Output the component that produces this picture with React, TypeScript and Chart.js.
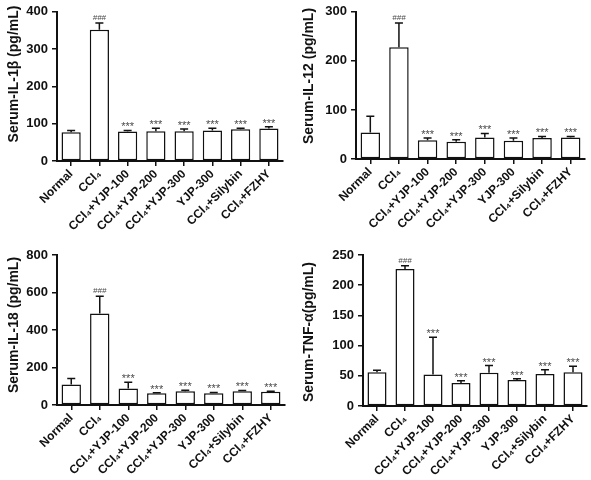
import React, { useEffect, useRef } from 'react';
import { Chart, registerables } from 'chart.js';

Chart.register(...registerables);

const FONT = '"Liberation Sans", Arial, Helvetica, sans-serif';

const categories = [
  'Normal',
  'CCl₄',
  'CCl₄+YJP-100',
  'CCl₄+YJP-200',
  'CCl₄+YJP-300',
  'YJP-300',
  'CCl₄+Silybin',
  'CCl₄+FZHY',
];

const markers = ['', '###', '***', '***', '***', '***', '***', '***'];

const il1bMean = [77, 352, 79, 80, 80, 82, 85, 87];
const il1bErr = [5, 18, 3, 8, 6, 6, 3, 5];

const il12Mean = [54, 228, 38, 35, 44, 37, 43, 44];
const il12Err = [33, 49, 5, 4, 8, 6, 3, 2];

const il18Mean = [110, 488, 88, 63, 74, 63, 74, 71];
const il18Err = [32, 92, 34, 3, 5, 4, 4, 2];

const tnfMean = [56, 227, 52, 38, 55, 43, 53, 56];
const tnfErr = [3, 5, 62, 4, 12, 2, 7, 10];

const il1bTicks = [0, 100, 200, 300, 400];
const il12Ticks = [0, 100, 200, 300];
const il18Ticks = [0, 200, 400, 600, 800];
const tnfTicks = [0, 50, 100, 150, 200, 250];

type Panel = {
  title: string;
  mean: number[];
  err: number[];
  ticks: number[];
  x: number;
  y: number;
  w: number;
  h: number;
  titleX: number;
  titleY: number;
  area: { left: number; right: number; top: number; bottom: number };
};

const panels: Panel[] = [
  {
    title: 'Serum-IL-1β (pg/mL)',
    mean: il1bMean,
    err: il1bErr,
    ticks: il1bTicks,
    x: 0, y: 0, w: 295, h: 240,
    titleX: 14, titleY: 74,
    area: { left: 57, right: 283, top: 9, bottom: 161 },
  },
  {
    title: 'Serum-IL-12 (pg/mL)',
    mean: il12Mean,
    err: il12Err,
    ticks: il12Ticks,
    x: 295, y: 0, w: 296, h: 240,
    titleX: 14, titleY: 76,
    area: { left: 61, right: 290, top: 8, bottom: 159 },
  },
  {
    title: 'Serum-IL-18 (pg/mL)',
    mean: il18Mean,
    err: il18Err,
    ticks: il18Ticks,
    x: 0, y: 240, w: 295, h: 240,
    titleX: 14, titleY: 85,
    area: { left: 57, right: 285, top: 15, bottom: 165 },
  },
  {
    title: 'Serum-TNF-α(pg/mL)',
    mean: tnfMean,
    err: tnfErr,
    ticks: tnfTicks,
    x: 295, y: 240, w: 296, h: 240,
    titleX: 14, titleY: 92,
    area: { left: 68, right: 292, top: 15, bottom: 166 },
  },
];

const INK = '#111111';

function BarPanel({ p }: { p: Panel }) {
  const ref = useRef<HTMLCanvasElement | null>(null);

  useEffect(() => {
    if (!ref.current) return;
    const errPlugin = {
      id: 'errorBars',
      afterDatasetsDraw(chart: any) {
        const ctx = chart.ctx;
        const meta = chart.getDatasetMeta(0);
        const ys = chart.scales.y;
        ctx.save();
        ctx.strokeStyle = INK;
        ctx.lineWidth = 1.5;
        p.mean.forEach((m, i) => {
          const el = meta.data[i];
          const x = el.x;
          const y0 = ys.getPixelForValue(m);
          const y1 = ys.getPixelForValue(m + p.err[i]);
          ctx.beginPath();
          ctx.moveTo(x, y0);
          ctx.lineTo(x, y1);
          ctx.moveTo(x - 4, y1);
          ctx.lineTo(x + 4, y1);
          ctx.stroke();
          const mk = markers[i];
          if (mk) {
            ctx.fillStyle = '#4a4a4a';
            ctx.textAlign = 'center';
            ctx.textBaseline = 'alphabetic';
            if (mk === '###') {
              ctx.font = `italic 8px ${FONT}`;
              ctx.fillText(mk, x, y1 - 3);
            } else {
              ctx.font = `11px ${FONT}`;
              ctx.fillText(mk, x, y1 - 0);
            }
          }
        });
        ctx.restore();
      },
      afterDraw(chart: any) {
        const ctx = chart.ctx;
        ctx.save();
        ctx.translate(p.titleX, p.titleY);
        ctx.rotate(-Math.PI / 2);
        ctx.fillStyle = INK;
        ctx.font = `bold 14px ${FONT}`;
        ctx.textAlign = 'center';
        ctx.textBaseline = 'middle';
        ctx.fillText(p.title, 0, 0);
        ctx.restore();
      },
    };

    const chart = new Chart(ref.current, {
      type: 'bar',
      data: {
        labels: categories,
        datasets: [
          {
            data: p.mean,
            backgroundColor: '#ffffff',
            borderColor: INK,
            borderWidth: 1.5,
            borderSkipped: false,
            barPercentage: 0.68,
            categoryPercentage: 1,
          },
        ],
      },
      options: {
        responsive: false,
        animation: false,
        devicePixelRatio: 1,
        layout: {
          padding: { top: p.area.top, right: p.w - p.area.right, left: 0, bottom: 0 },
        },
        plugins: {
          legend: { display: false },
          tooltip: { enabled: false },
        },
        scales: {
          x: {
            offset: true,
            grid: {
              display: true,
              drawOnChartArea: false,
              drawTicks: true,
              tickLength: 5,
              offset: false,
              color: INK,
              lineWidth: 1.5,
            },
            border: { color: INK, width: 2 },
            ticks: {
              autoSkip: false,
              maxRotation: 45,
              minRotation: 45,
              color: INK,
              padding: 1,
              font: { family: FONT, size: 12, weight: 'bold' },
            },
            afterFit: (s: any) => {
              s.height = p.h - p.area.bottom;
            },
          },
          y: {
            min: p.ticks[0],
            max: p.ticks[p.ticks.length - 1],
            afterBuildTicks: (s: any) => {
              s.ticks = p.ticks.map((v) => ({ value: v }));
            },
            grid: {
              drawOnChartArea: false,
              drawTicks: true,
              tickLength: 5,
              color: INK,
              lineWidth: 1.5,
            },
            border: { color: INK, width: 2 },
            ticks: {
              color: INK,
              padding: 4,
              font: { family: FONT, size: 13, weight: 'bold' },
            },
            title: { display: false },
            afterFit: (s: any) => {
              s.width = p.area.left;
            },
          },
        },
      },
      plugins: [errPlugin],
    } as any);
    return () => chart.destroy();
  }, [p]);

  return (
    <canvas
      ref={ref}
      width={p.w}
      height={p.h}
      style={{ position: 'absolute', left: p.x, top: p.y, width: p.w, height: p.h }}
    />
  );
}

export default function App() {
  return (
    <div
      style={{
        position: 'absolute',
        left: 0,
        top: 0,
        width: 591,
        height: 480,
        background: '#ffffff',
        overflow: 'hidden',
      }}
    >
      {panels.map((p, i) => (
        <BarPanel key={i} p={p} />
      ))}
    </div>
  );
}
